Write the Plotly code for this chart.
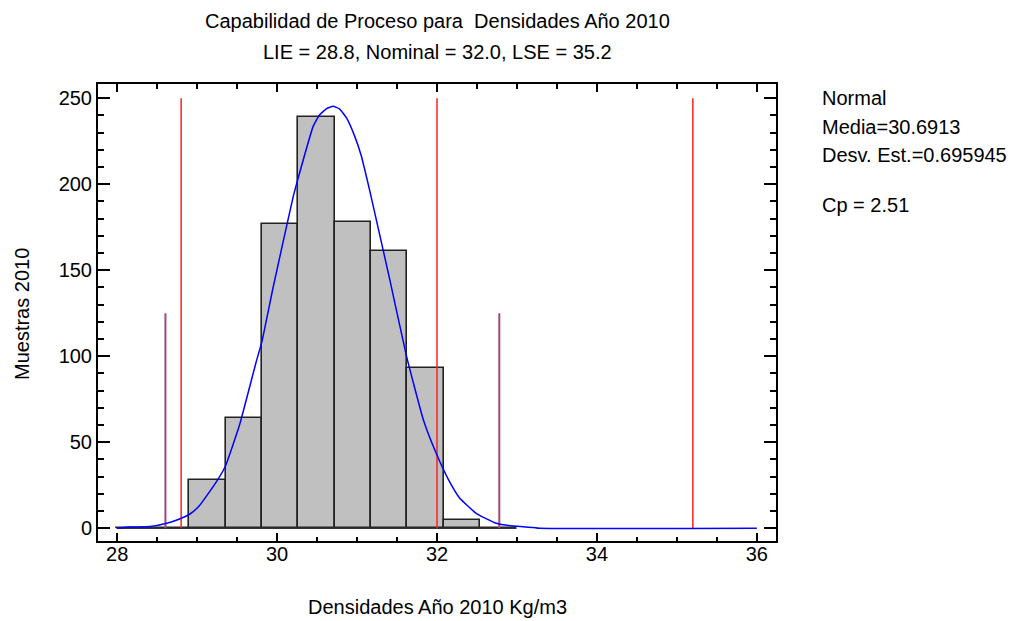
import plotly.graph_objects as go

# Histogram of the 2010 density samples
bin_edges = [27.99, 28.445, 28.90, 29.355, 29.81, 30.265, 30.72,
             31.175, 31.63, 32.085, 32.54, 32.995]
bin_counts = [0, 0, 28, 64, 177, 239, 178, 161, 93, 5, 0]

# Fitted normal curve (scaled to counts), sampled points
curve_x = [28.00, 28.16, 28.41, 28.62, 28.78, 28.91, 29.03, 29.24, 29.35,
           29.53, 29.74, 29.81, 29.95, 30.20, 30.26, 30.45, 30.53, 30.62,
           30.70, 30.78, 30.87, 30.97, 31.05, 31.16, 31.41, 31.62, 31.83,
           31.99, 32.14, 32.28, 32.49, 32.74, 32.95, 33.20, 33.28, 36.00]
curve_y = [0.0, 0.7, 1.0, 2.9, 5.4, 8.3, 13.2, 27.0, 35.8,
           60.0, 97.0, 108.5, 140.0, 192.5, 203.0, 233.5, 240.3, 244.0,
           245.3, 243.8, 238.4, 228.0, 217.0, 196.0, 144.4, 99.8, 63.0,
           43.6, 28.6, 17.8, 8.7, 2.9, 1.3, 0.5, 0.0, 0.0]

# Specification limits and fit statistics
lie, nominal, lse = 28.8, 32.0, 35.2
media, desv = 30.6913, 0.695945
cp = 2.51

spec_top = 250
sigma_top = 125

FONT = "Liberation Sans, Arial, sans-serif"
FS = 20

centers = [(a + b) / 2 for a, b in zip(bin_edges[:-1], bin_edges[1:])]
widths = [b - a for a, b in zip(bin_edges[:-1], bin_edges[1:])]

fig = go.Figure()

fig.add_trace(go.Bar(
    x=centers, y=bin_counts, width=widths,
    marker=dict(color="#c0c0c0", line=dict(color="#222222", width=1.6)),
    hoverinfo="x+y",
))

# baseline under the empty bins
fig.add_trace(go.Scatter(
    x=[bin_edges[0], bin_edges[-1]], y=[0, 0], mode="lines",
    line=dict(color="#333333", width=1.6), hoverinfo="skip",
))

# LIE / nominal / LSE
for v in (lie, nominal, lse):
    fig.add_trace(go.Scatter(
        x=[v, v], y=[0, spec_top], mode="lines",
        line=dict(color="#ff2020", width=1.5), hoverinfo="skip",
    ))

# mean +/- 3 sigma
for v in (media - 3 * desv, media + 3 * desv):
    fig.add_trace(go.Scatter(
        x=[v, v], y=[0, sigma_top], mode="lines",
        line=dict(color="#a0487a", width=2), hoverinfo="skip",
    ))

fig.add_trace(go.Scatter(
    x=curve_x, y=curve_y, mode="lines",
    line=dict(color="#0000ff", width=1.5, shape="spline", smoothing=0.4),
    hoverinfo="skip",
))

L, R, T, B = 98, 246, 84, 80
W, H = 1022, 621
PW, PH = W - L - R, H - T - B


def px_x(px):
    return (px - L) / PW


def px_y(py):
    return (H - B - py) / PH


annots = [
    dict(text="Capabilidad de Proceso para \u00a0Densidades Año 2010",
         x=0.5, y=px_y(20.5), xanchor="center"),
    dict(text=f"LIE = {lie:.1f}, Nominal = {nominal:.1f}, LSE = {lse:.1f}",
         x=0.5, y=px_y(52), xanchor="center"),
    dict(text="Densidades Año 2010 Kg/m3", x=0.5, y=px_y(607), xanchor="center"),
    dict(text="Normal", x=px_x(820), y=px_y(98), xanchor="left"),
    dict(text=f"Media={media}", x=px_x(820), y=px_y(127), xanchor="left"),
    dict(text=f"Desv. Est.={desv}", x=px_x(820), y=px_y(155), xanchor="left"),
    dict(text=f"Cp = {cp}", x=px_x(820), y=px_y(205), xanchor="left"),
]
for a in annots:
    fig.add_annotation(xref="paper", yref="paper", yanchor="middle",
                       showarrow=False, font=dict(family=FONT, size=FS, color="black"),
                       **a)
fig.add_annotation(text="Muestras 2010", xref="paper", yref="paper",
                   x=px_x(22), y=px_y(314), xanchor="center", yanchor="middle",
                   textangle=-90, showarrow=False,
                   font=dict(family=FONT, size=FS, color="black"))

axis_common = dict(
    showline=True, linecolor="black", linewidth=2, mirror="ticks",
    ticks="inside", tickcolor="black", tickwidth=1.5,
    showgrid=False, zeroline=False,
    tickfont=dict(family=FONT, size=FS, color="black"),
)

fig.update_xaxes(
    range=[27.76, 36.24], tick0=28, dtick=2, ticklen=8,
    ticklabelstandoff=-6,
    minor=dict(dtick=0.5, ticklen=4.5, ticks="inside", tickcolor="black",
               tickwidth=1.5, showgrid=False),
    **axis_common,
)
fig.update_yaxes(
    range=[-7.4, 258.3], tick0=0, dtick=50, ticklen=12,
    minor=dict(dtick=10, ticklen=6, ticks="inside", tickcolor="black",
               tickwidth=1.5, showgrid=False),
    **axis_common,
)

fig.update_layout(
    width=W, height=H, autosize=False,
    margin=dict(l=L, r=R, t=T, b=B, pad=0),
    paper_bgcolor="white", plot_bgcolor="white",
    showlegend=False, bargap=0,
    font=dict(family=FONT, size=FS, color="black"),
)

fig.write_html("out.html")
